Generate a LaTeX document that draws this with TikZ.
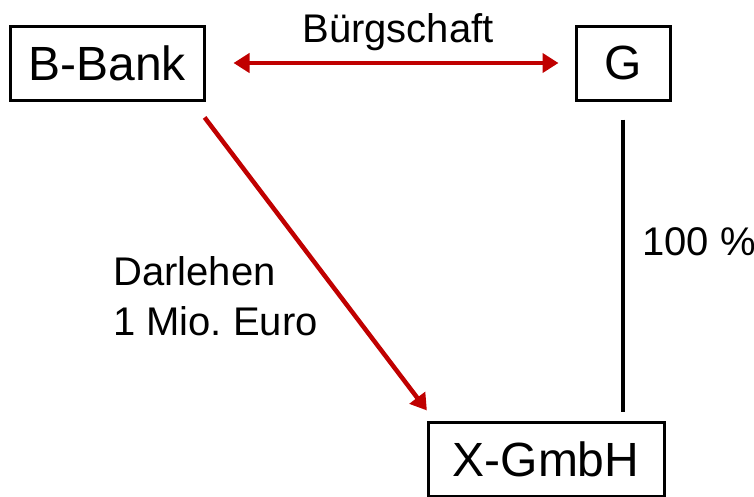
\documentclass[tikz,border=0pt]{standalone}
\usepackage{fontspec}
\setmainfont{Liberation Sans}
\usetikzlibrary{arrows.meta}
\definecolor{darkred}{HTML}{C00000}
\frenchspacing
\begin{document}
\begin{tikzpicture}[x=1pt,y=-1pt,
  party/.style={draw=black,line width=3pt,inner sep=0pt,font=\fontsize{48}{54}\selectfont},
  lbl/.style={inner sep=0pt,font=\fontsize{40}{50}\selectfont},
  redarrow/.style={draw=darkred,line width=4.5pt,-{Triangle[length=16pt,width=19pt]}},
  redboth/.style={draw=darkred,line width=4.5pt,{Triangle[length=16pt,width=19pt]}-{Triangle[length=16pt,width=19pt]}},
  share/.style={draw=black,line width=4.5pt}]
\useasboundingbox (0,0) rectangle (754,496);
\node[party,minimum width=194pt,minimum height=74pt] (bbank) at (107,63) {B-Bank};
\node[party,minimum width=94pt,minimum height=74pt] (g) at (623,63) {G};
\node[party,minimum width=236pt,minimum height=74pt] (xg) at (546,459) {X-GmbH};
\draw[redboth,shorten <=28pt,shorten >=16pt] (bbank.east) -- (g.west);
\node[lbl,anchor=base] (bs) at (398,42) {Bürgschaft};
\draw[redarrow,shorten <=20pt,shorten >=12.6pt] ([xshift=-13pt]bbank.south east) -- ([xshift=8pt]xg.north west);
\node[lbl,anchor=base west,align=left] (dl) at (113,335) {Darlehen\\1 Mio.\ Euro};
\draw[share,shorten <=18pt,shorten >=9pt] (g.south) -- (g.south |- xg.north);
\node[lbl,anchor=base west] (pc) at (642,255) {100 \%};
\end{tikzpicture}
\end{document}
